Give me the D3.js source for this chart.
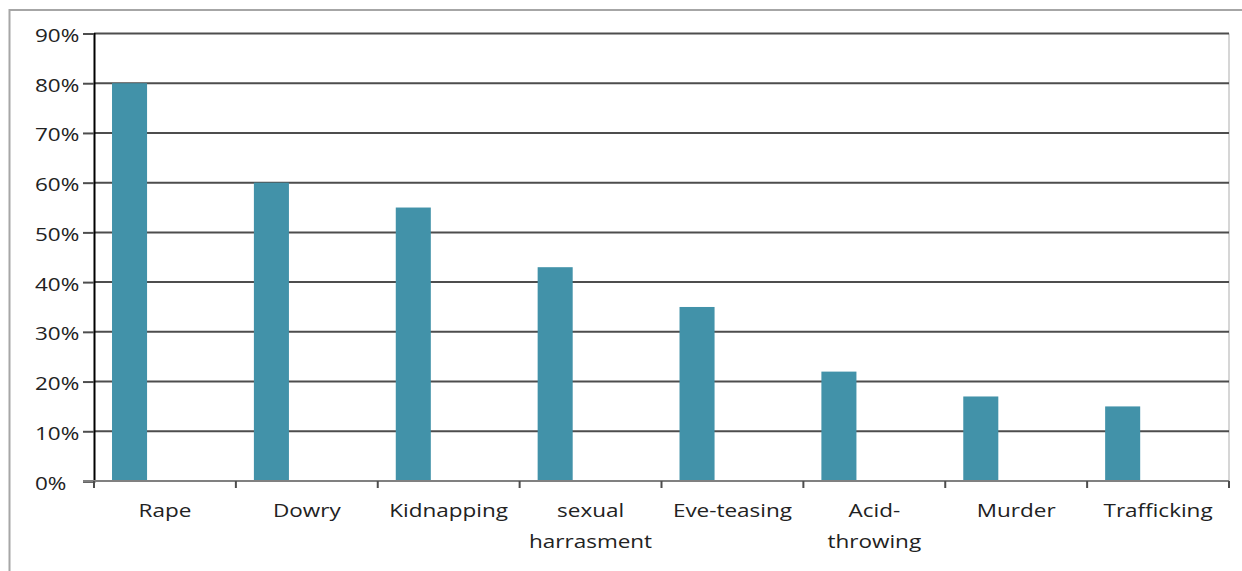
<!DOCTYPE html>
<html>
<head>
<meta charset="utf-8">
<script src="https://cdn.jsdelivr.net/npm/d3@7"></script>
<style>
  body { margin: 0; background: #fff; }
  svg { display: block; }
  text { font-family: "Open Sans", sans-serif; font-size: 18px; fill: #222; }
</style>
</head>
<body>
<div id="chart"></div>
<script>
// data
const categories = ["Rape", "Dowry", "Kidnapping", "sexual harrasment", "Eve-teasing", "Acid-throwing", "Murder", "Trafficking"];
const tickLabels = [["Rape"], ["Dowry"], ["Kidnapping"], ["sexual", "harrasment"], ["Eve-teasing"], ["Acid-", "throwing"], ["Murder"], ["Trafficking"]];
const values = [0.80, 0.60, 0.55, 0.43, 0.35, 0.22, 0.17, 0.15];
const yTicks = [0, 0.1, 0.2, 0.3, 0.4, 0.5, 0.6, 0.7, 0.8, 0.9];

const width = 1242, height = 571;
const plot = {left: 94, right: 1229, top: 33.5, bottom: 481};
const stretch = 1.25; // text in the source is widened

const svg = d3.select("#chart").append("svg")
  .attr("width", width)
  .attr("height", height);

// outer frame (only top + left visible in the source)
svg.append("path")
  .attr("d", `M ${width} 10 L 9.5 10 L 9.5 ${height}`)
  .attr("fill", "none")
  .attr("stroke", "#a6a6a6")
  .attr("stroke-width", 2);

const x = d3.scaleBand().domain(categories).range([plot.left, plot.right]).padding(0);
const y = d3.scaleLinear().domain([0, 0.9]).range([plot.bottom, plot.top]);

// right border of plot area
svg.append("line")
  .attr("x1", plot.right).attr("x2", plot.right)
  .attr("y1", plot.top).attr("y2", plot.bottom)
  .attr("stroke", "#c8c8c8")
  .attr("stroke-width", 1.5);

// gridlines
svg.append("g").selectAll("line")
  .data(yTicks.filter(d => d > 0))
  .enter().append("line")
  .attr("x1", plot.left).attr("x2", plot.right)
  .attr("y1", d => y(d)).attr("y2", d => y(d))
  .attr("stroke", "#4d4d4d")
  .attr("stroke-width", 2);

// bars (sit on the left part of each band)
const bw = x.bandwidth();
svg.append("g").selectAll("rect")
  .data(values)
  .enter().append("rect")
  .attr("x", (d, i) => x(categories[i]) + bw * 0.127)
  .attr("width", bw * 0.247)
  .attr("y", d => y(d))
  .attr("height", d => y(0) - y(d))
  .attr("fill", "#4292a9");

// y axis
const yAxis = svg.append("g")
  .attr("transform", `translate(${plot.left},0)`)
  .call(d3.axisLeft(y).tickValues(yTicks).tickSize(11).tickFormat(d3.format(".0%")));
yAxis.select(".domain").attr("stroke", "#000").attr("stroke-width", 2);
yAxis.selectAll(".tick line").attr("stroke", "#4d4d4d").attr("stroke-width", 2);
yAxis.selectAll(".tick text").remove();
// labels are left-aligned in the source
yAxis.selectAll(".tick").append("g")
  .attr("transform", `translate(${35 - plot.left},8)`)
  .append("text")
  .attr("transform", `scale(${stretch},1)`)
  .attr("text-anchor", "start")
  .text(d => d3.format(".0%")(d));

// x axis: baseline + ticks on band boundaries
svg.append("line")
  .attr("x1", plot.left - 11).attr("x2", plot.right)
  .attr("y1", plot.bottom).attr("y2", plot.bottom)
  .attr("stroke", "#808080")
  .attr("stroke-width", 2);

const bounds = categories.map(c => x(c)).concat([x.range()[1]]);
svg.append("g").selectAll("line")
  .data(bounds)
  .enter().append("line")
  .attr("x1", d => d).attr("x2", d => d)
  .attr("y1", plot.bottom).attr("y2", plot.bottom + 7)
  .attr("stroke", "#4d4d4d")
  .attr("stroke-width", 2);

const xl = svg.append("g").selectAll("g")
  .data(tickLabels)
  .enter().append("g")
  .attr("transform", (d, i) => `translate(${x(categories[i]) + bw / 2},517)`);
xl.each(function(lines) {
  const t = d3.select(this).append("text")
    .attr("transform", `scale(${stretch},1)`)
    .attr("text-anchor", "middle");
  lines.forEach((l, k) => {
    t.append("tspan").attr("x", 0).attr("y", k * 31).text(l);
  });
});
</script>
</body>
</html>
